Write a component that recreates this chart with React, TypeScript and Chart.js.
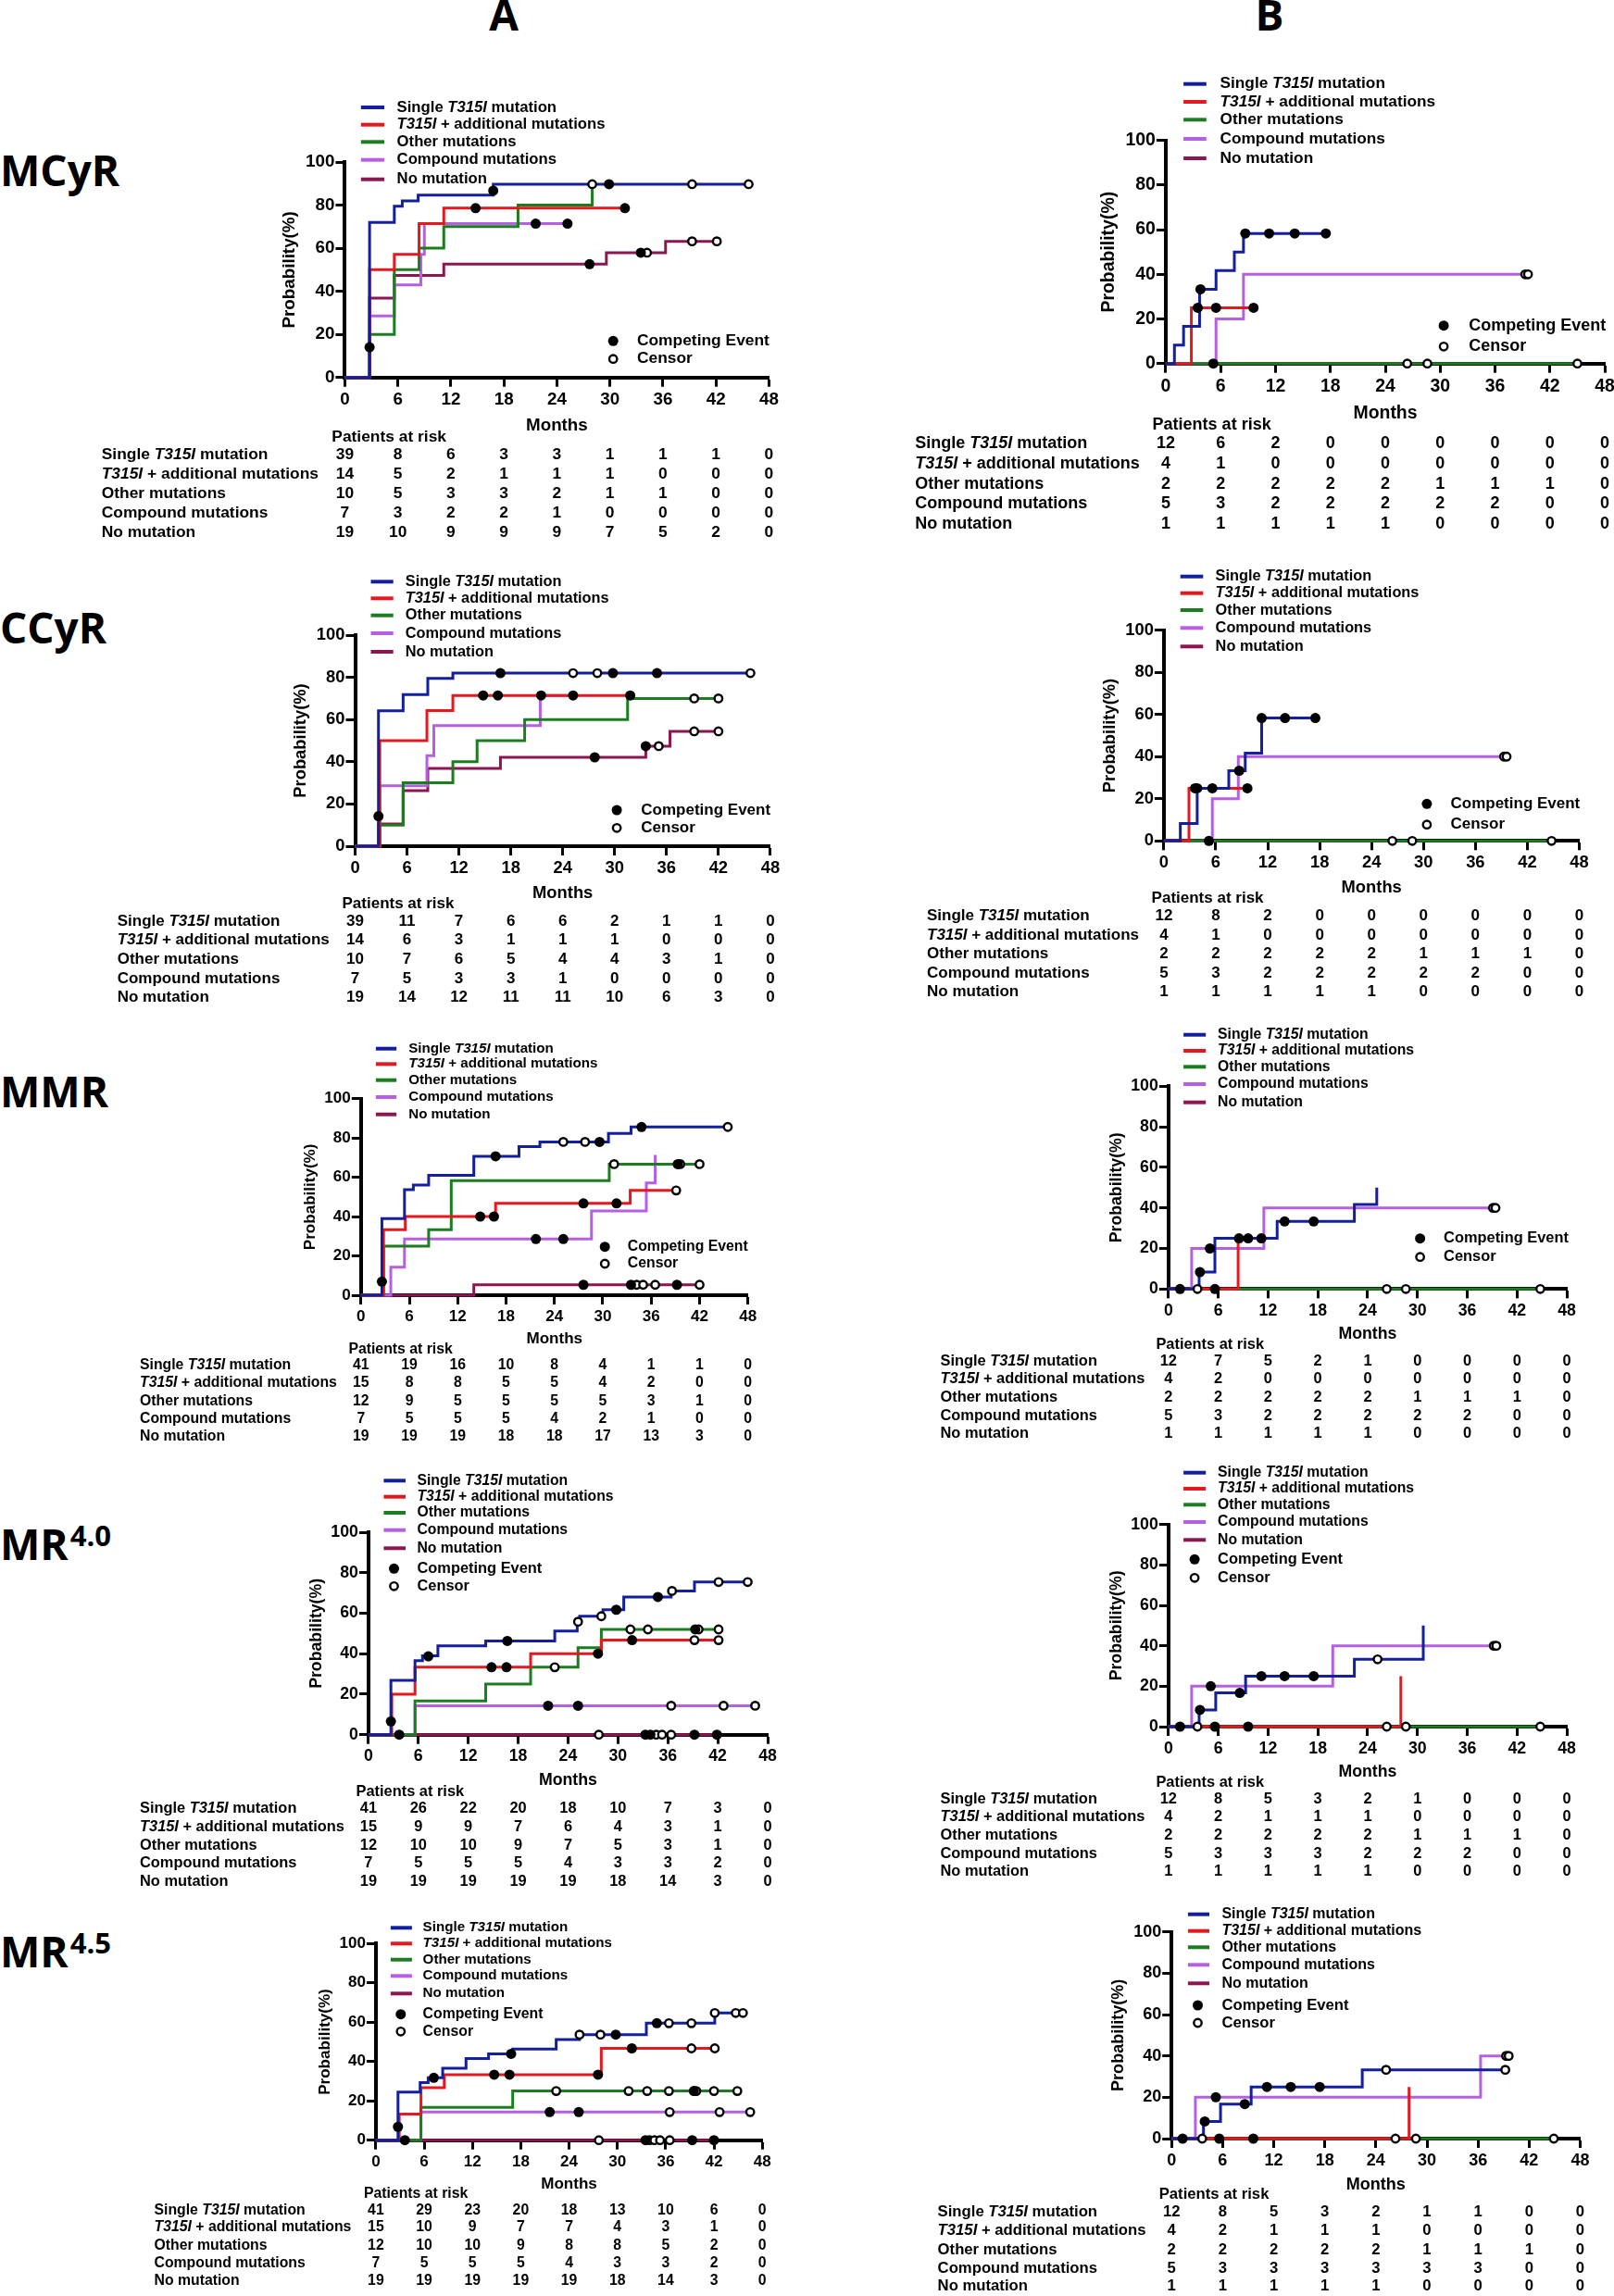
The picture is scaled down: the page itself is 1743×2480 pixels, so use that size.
import React, { useEffect, useRef } from 'react';
import { Chart, registerables } from 'chart.js';

Chart.register(...registerables);

type Pt = [number, number];

// ---------- shared labels ----------
const MONTH_TICKS = [0, 6, 12, 18, 24, 30, 36, 42, 48];
const PROB_TICKS = [0, 20, 40, 60, 80, 100];
const GROUP_NAMES = [
  'Single T315I mutation',
  'T315I + additional mutations',
  'Other mutations',
  'Compound mutations',
  'No mutation',
];
const MARKER_NAMES = ['Competing Event', 'Censor'];
const COLUMN_TITLES = ['A', 'B'];
const ROW_TITLES = ['MCyR', 'CCyR', 'MMR', 'MR', 'MR'];
const ROW_SUPERSCRIPTS = ['', '', '', '4.0', '4.5'];
const X_TITLE = 'Months';
const Y_TITLE = 'Probability(%)';
const RISK_TITLE = 'Patients at risk';

// ---------- MCyR, column A ----------
const A_MCYR_SINGLE: Pt[] = [[0, 0], [2.8, 72], [5.6, 79.5], [6.5, 82], [8.3, 84.6], [16.8, 89.7], [45.7, 89.7]];
const A_MCYR_TPLUS: Pt[] = [[0, 0], [2.8, 50], [5.6, 57.1], [8.4, 71.4], [11.2, 78.6], [31.7, 78.6]];
const A_MCYR_OTHER: Pt[] = [[0, 0], [2.8, 20], [5.6, 50], [8.4, 60], [11.2, 70], [19.6, 80], [28, 89.7]];
const A_MCYR_COMPOUND: Pt[] = [[0, 0], [2.8, 28.6], [5.6, 42.9], [8.6, 57.1], [9.0, 71.4], [25.2, 71.4]];
const A_MCYR_NOMUT: Pt[] = [[0, 0], [2.8, 36.8], [5.6, 47.4], [11.2, 52.6], [29.6, 57.9], [36.3, 63.2], [42.1, 63.2]];
const A_MCYR_EVENTS: Pt[] = [[2.8, 14], [16.8, 86.7], [29.9, 89.7], [14.8, 78.6], [31.7, 78.6], [21.6, 71.4], [25.2, 71.4], [27.7, 52.6], [33.5, 57.9]];
const A_MCYR_CENSOR: Pt[] = [[28, 89.7], [39.3, 89.7], [45.7, 89.7], [34.2, 57.9], [39.3, 63.2], [42.1, 63.2]];
const A_MCYR_RISK = [
  [39, 8, 6, 3, 3, 1, 1, 1, 0],
  [14, 5, 2, 1, 1, 1, 0, 0, 0],
  [10, 5, 3, 3, 2, 1, 1, 0, 0],
  [7, 3, 2, 2, 1, 0, 0, 0, 0],
  [19, 10, 9, 9, 9, 7, 5, 2, 0],
];

// ---------- MCyR, column B ----------
const B_MCYR_SINGLE: Pt[] = [[0, 0], [0.95, 8.3], [1.95, 16.7], [3.7, 33.3], [5.5, 41.7], [7.5, 50], [8.5, 58.3], [17.5, 58.3]];
const B_MCYR_TPLUS: Pt[] = [[0, 0], [2.8, 25], [9.6, 25]];
const B_MCYR_OTHER: Pt[] = [[0, 0], [45, 0]];
const B_MCYR_COMPOUND: Pt[] = [[0, 0], [5.5, 20], [8.5, 40], [39.5, 40]];
const B_MCYR_NOMUT: Pt[] = [[0, 0], [27, 0]];
const B_MCYR_EVENTS: Pt[] = [[3.8, 33.3], [8.7, 58.3], [11.3, 58.3], [14.1, 58.3], [17.5, 58.3], [3.5, 25], [5.5, 25], [9.6, 25], [5.2, 0]];
const B_MCYR_CENSOR: Pt[] = [[26.4, 0], [28.6, 0], [45, 0], [39.3, 40], [39.6, 40]];
const B_MCYR_RISK = [
  [12, 6, 2, 0, 0, 0, 0, 0, 0],
  [4, 1, 0, 0, 0, 0, 0, 0, 0],
  [2, 2, 2, 2, 2, 1, 1, 1, 0],
  [5, 3, 2, 2, 2, 2, 2, 0, 0],
  [1, 1, 1, 1, 1, 0, 0, 0, 0],
];

// ---------- CCyR, column A ----------
const A_CCYR_SINGLE: Pt[] = [[0, 0], [2.7, 64.1], [5.55, 71.8], [8.4, 79.5], [11.3, 82], [45.7, 82]];
const A_CCYR_TPLUS: Pt[] = [[0, 0], [2.85, 50], [8.3, 64.3], [11.3, 71.4], [31.8, 71.4]];
const A_CCYR_OTHER: Pt[] = [[0, 0], [2.85, 10], [5.55, 30], [11.3, 40], [14.1, 50], [19.6, 60], [31.5, 70], [42, 70]];
const A_CCYR_COMPOUND: Pt[] = [[0, 0], [2.85, 28.6], [8.3, 42.9], [9.1, 57.1], [21.4, 71.4], [25.2, 71.4]];
const A_CCYR_NOMUT: Pt[] = [[0, 0], [2.7, 10.5], [5.55, 26.3], [8.4, 36.8], [16.8, 42.1], [33.6, 47.4], [36.4, 54.4], [42, 54.4]];
const A_CCYR_EVENTS: Pt[] = [[2.7, 14.2], [16.8, 82], [29.8, 82], [34.9, 82], [14.8, 71.4], [16.5, 71.4], [21.5, 71.4], [25.2, 71.4], [31.8, 71.4], [27.7, 42.1], [33.6, 47.4]];
const A_CCYR_CENSOR: Pt[] = [[25.2, 82], [28, 82], [45.7, 82], [39.2, 70], [42, 70], [35.1, 47.4], [39.2, 54.4], [42, 54.4]];
const A_CCYR_RISK = [
  [39, 11, 7, 6, 6, 2, 1, 1, 0],
  [14, 6, 3, 1, 1, 1, 0, 0, 0],
  [10, 7, 6, 5, 4, 4, 3, 1, 0],
  [7, 5, 3, 3, 1, 0, 0, 0, 0],
  [19, 14, 12, 11, 11, 10, 6, 3, 0],
];

// ---------- CCyR, column B ----------
const B_CCYR_SINGLE: Pt[] = [[0, 0], [1.9, 8.3], [3.85, 25], [7.5, 33.3], [9.4, 41.7], [11.3, 58.3], [17.5, 58.3]];
const B_CCYR_TPLUS: Pt[] = [[0, 0], [2.9, 25], [9.65, 25]];
const B_CCYR_OTHER: Pt[] = [[0, 0], [44.8, 0]];
const B_CCYR_COMPOUND: Pt[] = [[0, 0], [5.6, 20], [8.6, 40], [39.5, 40]];
const B_CCYR_NOMUT: Pt[] = [[0, 0], [27, 0]];
const B_CCYR_EVENTS: Pt[] = [[3.85, 25], [8.7, 33.3], [11.3, 58.3], [14, 58.3], [17.5, 58.3], [3.6, 25], [5.6, 25], [9.65, 25], [5.2, 0]];
const B_CCYR_CENSOR: Pt[] = [[26.4, 0], [28.7, 0], [44.8, 0], [39.3, 40], [39.6, 40]];
const B_CCYR_RISK = [
  [12, 8, 2, 0, 0, 0, 0, 0, 0],
  [4, 1, 0, 0, 0, 0, 0, 0, 0],
  [2, 2, 2, 2, 2, 1, 1, 1, 0],
  [5, 3, 2, 2, 2, 2, 2, 0, 0],
  [1, 1, 1, 1, 1, 0, 0, 0, 0],
];

// ---------- MMR, column A ----------
const A_MMR_SINGLE: Pt[] = [[0, 0], [2.6, 39], [5.4, 53.7], [6.5, 56.1], [8.4, 61], [14, 70.7], [19.6, 75.6], [22.2, 78], [30.7, 82.3], [33.5, 85.6], [45.5, 85.6]];
const A_MMR_TPLUS: Pt[] = [[0, 0], [2.8, 33.3], [5.5, 40], [16.7, 46.7], [33.4, 53.3], [39.1, 53.3]];
const A_MMR_OTHER: Pt[] = [[0, 0], [2.8, 25], [8.4, 33.3], [11.2, 58.3], [30.8, 66.7], [42, 66.7]];
const A_MMR_COMPOUND: Pt[] = [[0, 0], [3.7, 14.3], [5.4, 28.6], [28.6, 42.9], [35.4, 57.1], [36.5, 71.4]];
const A_MMR_NOMUT: Pt[] = [[0, 0], [14, 5.3], [42, 5.3]];
const A_MMR_EVENTS: Pt[] = [[2.6, 6.9], [16.7, 70.7], [29.6, 78], [34.8, 85.6], [14.8, 40], [16.5, 40], [27.6, 46.7], [31.7, 46.7], [39.3, 66.7], [21.7, 28.6], [25.1, 28.6], [27.6, 5.3], [33.5, 5.3], [39.2, 5.3]];
const A_MMR_CENSOR: Pt[] = [[25.1, 78], [27.8, 78], [45.5, 85.6], [39.1, 53.3], [31.4, 66.7], [39.6, 66.7], [42, 66.7], [34.2, 5.3], [35, 5.3], [36.5, 5.3], [42, 5.3]];
const A_MMR_RISK = [
  [41, 19, 16, 10, 8, 4, 1, 1, 0],
  [15, 8, 8, 5, 5, 4, 2, 0, 0],
  [12, 9, 5, 5, 5, 5, 3, 1, 0],
  [7, 5, 5, 5, 4, 2, 1, 0, 0],
  [19, 19, 19, 18, 18, 17, 13, 3, 0],
];

// ---------- MMR, column B ----------
const B_MMR_SINGLE: Pt[] = [[0, 0], [3.7, 8.3], [5.6, 25], [13.1, 33.3], [22.4, 41.7], [25.1, 50]];
const B_MMR_TPLUS: Pt[] = [[0, 0], [8.4, 25], [9.6, 25]];
const B_MMR_OTHER: Pt[] = [[0, 0], [44.8, 0]];
const B_MMR_COMPOUND: Pt[] = [[0, 0], [2.8, 20], [11.5, 40], [39.3, 40]];
const B_MMR_NOMUT: Pt[] = [[0, 0], [27, 0]];
const B_MMR_EVENTS: Pt[] = [[1.4, 0], [3.8, 8.3], [5, 20], [8.5, 25], [9.6, 25], [11.2, 25], [14, 33.3], [17.5, 33.3], [5.6, 0]];
const B_MMR_CENSOR: Pt[] = [[3.5, 0], [26.3, 0], [28.6, 0], [44.8, 0], [39.1, 40], [39.4, 40]];
const B_MMR_RISK = [
  [12, 7, 5, 2, 1, 0, 0, 0, 0],
  [4, 2, 0, 0, 0, 0, 0, 0, 0],
  [2, 2, 2, 2, 2, 1, 1, 1, 0],
  [5, 3, 2, 2, 2, 2, 2, 0, 0],
  [1, 1, 1, 1, 1, 0, 0, 0, 0],
];

// ---------- MR4.0, column A ----------
const A_MR40_SINGLE: Pt[] = [[0, 0], [2.7, 26.8], [5.6, 36.6], [6.5, 39], [8.35, 43.9], [14.1, 46.3], [22.4, 51.2], [25.1, 55.8], [25.4, 58.5], [28.2, 61.7], [30.7, 68], [36.4, 71], [39.2, 75.4], [45.6, 75.4]];
const A_MR40_TPLUS: Pt[] = [[0, 0], [2.8, 20], [5.6, 33.3], [19.5, 40], [28, 46.7], [42.1, 46.7]];
const A_MR40_OTHER: Pt[] = [[0, 0], [5.6, 16.7], [14.1, 25], [19.5, 33.3], [25.2, 43], [28, 52], [42.1, 52]];
const A_MR40_COMPOUND: Pt[] = [[0, 0], [5.6, 14.3], [46.5, 14.3]];
const A_MR40_NOMUT: Pt[] = [[0, 0], [42.1, 0]];
const A_MR40_EVENTS: Pt[] = [[2.7, 6.6], [7.2, 38.7], [16.7, 46.3], [29.8, 61.7], [34.8, 68], [14.8, 33.3], [16.6, 33.3], [27.6, 40], [31.7, 46.7], [3.7, 0], [39.3, 52], [21.6, 14.3], [25.2, 14.3], [33.3, 0], [33.9, 0], [39.2, 0], [41.9, 0]];
const A_MR40_CENSOR: Pt[] = [[25.2, 55.8], [28, 58.5], [36.5, 71], [42.1, 75.4], [45.6, 75.4], [39.2, 46.7], [42.1, 46.7], [22.4, 33.3], [31.5, 52], [33.6, 52], [39.7, 52], [42.1, 52], [36.4, 14.3], [42.7, 14.3], [46.5, 14.3], [27.7, 0], [34.6, 0], [35.3, 0], [36.4, 0]];
const A_MR40_RISK = [
  [41, 26, 22, 20, 18, 10, 7, 3, 0],
  [15, 9, 9, 7, 6, 4, 3, 1, 0],
  [12, 10, 10, 9, 7, 5, 3, 1, 0],
  [7, 5, 5, 5, 4, 3, 3, 2, 0],
  [19, 19, 19, 19, 19, 18, 14, 3, 0],
];

// ---------- MR4.0, column B ----------
const B_MR40_SINGLE: Pt[] = [[0, 0], [3.7, 8.3], [5.7, 16.7], [9.3, 25], [22.4, 33.3], [30.7, 50]];
const B_MR40_TPLUS: Pt[] = [[0, 0], [28, 25]];
const B_MR40_OTHER: Pt[] = [[0, 0], [44.8, 0]];
const B_MR40_COMPOUND: Pt[] = [[0, 0], [2.8, 20], [19.8, 40], [39.4, 40]];
const B_MR40_NOMUT: Pt[] = [[0, 0], [27, 0]];
const B_MR40_EVENTS: Pt[] = [[1.4, 0], [3.8, 8.3], [8.6, 16.7], [11.2, 25], [14, 25], [17.5, 25], [5.1, 20], [5.6, 0], [9.6, 0]];
const B_MR40_CENSOR: Pt[] = [[3.5, 0], [25.2, 33.3], [26.3, 0], [28.6, 0], [44.8, 0], [39.2, 40], [39.5, 40]];
const B_MR40_RISK = [
  [12, 8, 5, 3, 2, 1, 0, 0, 0],
  [4, 2, 1, 1, 1, 0, 0, 0, 0],
  [2, 2, 2, 2, 2, 1, 1, 1, 0],
  [5, 3, 3, 3, 2, 2, 2, 0, 0],
  [1, 1, 1, 1, 1, 0, 0, 0, 0],
];

// ---------- MR4.5, column A ----------
const A_MR45_SINGLE: Pt[] = [[0, 0], [2.75, 24.4], [5.5, 29.3], [6.5, 31.7], [8.3, 36.6], [11.2, 41.5], [14, 43.9], [17, 46.3], [22.4, 51.2], [25.3, 53.7], [33.6, 59.5], [42.1, 64.7], [45.6, 64.7]];
const A_MR45_TPLUS: Pt[] = [[0, 0], [2.9, 13.3], [5.6, 26.7], [8.5, 33.3], [28, 46.7], [42.1, 46.7]];
const A_MR45_OTHER: Pt[] = [[0, 0], [5.6, 16.7], [17, 25], [44.9, 25]];
const A_MR45_COMPOUND: Pt[] = [[0, 0], [5.6, 14.3], [46.5, 14.3]];
const A_MR45_NOMUT: Pt[] = [[0, 0], [42.1, 0]];
const A_MR45_EVENTS: Pt[] = [[2.75, 6.8], [7.2, 31.7], [16.8, 43.9], [29.8, 53.7], [34.9, 59.5], [14.7, 33.3], [16.6, 33.3], [27.6, 33.3], [31.8, 46.7], [3.6, 0], [39.5, 25], [21.6, 14.3], [25.2, 14.3], [33.5, 0], [39.3, 0], [42, 0]];
const A_MR45_CENSOR: Pt[] = [[25.3, 53.7], [27.9, 53.7], [36.4, 59.5], [39.2, 59.5], [42.1, 64.7], [44.7, 64.7], [45.6, 64.7], [39.2, 46.7], [42.1, 46.7], [22.4, 25], [31.4, 25], [33.7, 25], [36.4, 25], [39.8, 25], [42, 25], [44.9, 25], [36.5, 14.3], [42.7, 14.3], [46.5, 14.3], [27.7, 0], [34, 0], [34.6, 0], [35.3, 0], [36.5, 0]];
const A_MR45_RISK = [
  [41, 29, 23, 20, 18, 13, 10, 6, 0],
  [15, 10, 9, 7, 7, 4, 3, 1, 0],
  [12, 10, 10, 9, 8, 8, 5, 2, 0],
  [7, 5, 5, 5, 4, 3, 3, 2, 0],
  [19, 19, 19, 19, 19, 18, 14, 3, 0],
];

// ---------- MR4.5, column B ----------
const B_MR45_SINGLE: Pt[] = [[0, 0], [3.75, 8.3], [5.75, 16.7], [9.35, 25], [22.4, 33.3], [39.2, 33.3]];
const B_MR45_TPLUS: Pt[] = [[0, 0], [27.9, 25]];
const B_MR45_OTHER: Pt[] = [[0, 0], [44.9, 0]];
const B_MR45_COMPOUND: Pt[] = [[0, 0], [2.8, 20], [36.3, 40], [39.5, 40]];
const B_MR45_NOMUT: Pt[] = [[0, 0], [27, 0]];
const B_MR45_EVENTS: Pt[] = [[1.3, 0], [3.9, 8.3], [8.6, 16.7], [11.2, 25], [14, 25], [17.4, 25], [5.2, 20], [5.6, 0], [9.6, 0]];
const B_MR45_CENSOR: Pt[] = [[3.6, 0], [25.2, 33.3], [39.2, 33.3], [26.3, 0], [28.7, 0], [44.9, 0], [39.3, 40], [39.6, 40]];
const B_MR45_RISK = [
  [12, 8, 5, 3, 2, 1, 1, 0, 0],
  [4, 2, 1, 1, 1, 0, 0, 0, 0],
  [2, 2, 2, 2, 2, 1, 1, 1, 0],
  [5, 3, 3, 3, 3, 3, 3, 0, 0],
  [1, 1, 1, 1, 1, 0, 0, 0, 0],
];

// ---------- styles ----------
const COLORS = ['#131f9c', '#e3191f', '#1b7d1f', '#b65fe3', '#8c1750'];
const FONT = '"Liberation Sans", Arial, Helvetica, sans-serif';
const LABEL_FONT = '"Open Sans", "Liberation Sans", Arial, sans-serif';
const Y_AXIS_W = 80;
const X_AXIS_H = 75;

interface Layout {
  left: number; top: number; width: number; height: number; fs: number;
  x0: number; x48: number; y100: number; y0: number;
  legX1: number; legX2: number; legTextX: number; legYs: number[];
  mkDotX: number; mkTextX: number; mkYs: number[];
  monthsY: number; yTitleX: number;
  parX: number; parY: number; rowX: number; rowYs: number[];
}

interface PanelDef {
  curves: Pt[][];
  events: Pt[];
  censor: Pt[];
  risk: number[][];
  layout: Layout;
}

const PANELS: PanelDef[] = [
  {
    curves: [A_MCYR_SINGLE, A_MCYR_TPLUS, A_MCYR_OTHER, A_MCYR_COMPOUND, A_MCYR_NOMUT],
    events: A_MCYR_EVENTS, censor: A_MCYR_CENSOR, risk: A_MCYR_RISK,
    layout: {
      left: 100, top: 95, width: 760, height: 500, fs: 17.4,
      x0: 372.4, x48: 830.4, y100: 175, y0: 407.7,
      legX1: 389.8, legX2: 415, legTextX: 428.6, legYs: [116, 134.7, 153.3, 172.7, 193.7],
      mkDotX: 662.2, mkTextX: 687.9, mkYs: [368.3, 387.7],
      monthsY: 460, yTitleX: 313.3,
      parX: 358.3, parY: 472.3, rowX: 109.7, rowYs: [491, 512, 533, 554, 575],
    },
  },
  {
    curves: [B_MCYR_SINGLE, B_MCYR_TPLUS, B_MCYR_OTHER, B_MCYR_COMPOUND, B_MCYR_NOMUT],
    events: B_MCYR_EVENTS, censor: B_MCYR_CENSOR, risk: B_MCYR_RISK,
    layout: {
      left: 975, top: 70, width: 768, height: 515, fs: 18,
      x0: 1258.9, x48: 1733.1, y100: 151.7, y0: 392.7,
      legX1: 1278.1, legX2: 1302.8, legTextX: 1317.5, legYs: [90.7, 110, 129.3, 150, 171],
      mkDotX: 1559.1, mkTextX: 1586.2, mkYs: [351.7, 374.3],
      monthsY: 446.7, yTitleX: 1197.8,
      parX: 1244.6, parY: 459.3, rowX: 988.2, rowYs: [479, 500.7, 522.7, 544.3, 565.7],
    },
  },
  {
    curves: [A_CCYR_SINGLE, A_CCYR_TPLUS, A_CCYR_OTHER, A_CCYR_COMPOUND, A_CCYR_NOMUT],
    events: A_CCYR_EVENTS, censor: A_CCYR_CENSOR, risk: A_CCYR_RISK,
    layout: {
      left: 100, top: 605, width: 760, height: 490, fs: 17,
      x0: 383.5, x48: 831.9, y100: 686, y0: 914,
      legX1: 400.5, legX2: 424.7, legTextX: 437.8, legYs: [628.3, 646.3, 664.7, 684, 704],
      mkDotX: 666.1, mkTextX: 692.3, mkYs: [875, 894.3],
      monthsY: 965, yTitleX: 325.4,
      parX: 369.5, parY: 976.7, rowX: 126.7, rowYs: [995, 1015.7, 1036.7, 1057, 1077],
    },
  },
  {
    curves: [B_CCYR_SINGLE, B_CCYR_TPLUS, B_CCYR_OTHER, B_CCYR_COMPOUND, B_CCYR_NOMUT],
    events: B_CCYR_EVENTS, censor: B_CCYR_CENSOR, risk: B_CCYR_RISK,
    layout: {
      left: 975, top: 600, width: 768, height: 490, fs: 17,
      x0: 1256.9, x48: 1705.5, y100: 680.7, y0: 908.3,
      legX1: 1274.7, legX2: 1299.3, legTextX: 1312.6, legYs: [622.7, 640.7, 659, 678.3, 698.3],
      mkDotX: 1540.9, mkTextX: 1566.5, mkYs: [868.3, 890.7],
      monthsY: 959.3, yTitleX: 1199.2,
      parX: 1243.6, parY: 970.7, rowX: 1001, rowYs: [989.3, 1010, 1030.7, 1051, 1071],
    },
  },
  {
    curves: [A_MMR_SINGLE, A_MMR_TPLUS, A_MMR_OTHER, A_MMR_COMPOUND, A_MMR_NOMUT],
    events: A_MMR_EVENTS, censor: A_MMR_CENSOR, risk: A_MMR_RISK,
    layout: {
      left: 130, top: 1110, width: 720, height: 455, fs: 15.8,
      x0: 389.8, x48: 807.7, y100: 1186.7, y0: 1399,
      legX1: 405.9, legX2: 428.2, legTextX: 441.2, legYs: [1132.7, 1149.3, 1166.7, 1185, 1203.7],
      mkDotX: 653.2, mkTextX: 677.8, mkYs: [1346.7, 1365],
      monthsY: 1446.7, yTitleX: 335.4,
      parX: 376.4, parY: 1457.7, rowX: 151, rowYs: [1475, 1494, 1513.7, 1532.3, 1551.3],
    },
  },
  {
    curves: [B_MMR_SINGLE, B_MMR_TPLUS, B_MMR_OTHER, B_MMR_COMPOUND, B_MMR_NOMUT],
    events: B_MMR_EVENTS, censor: B_MMR_CENSOR, risk: B_MMR_RISK,
    layout: {
      left: 990, top: 1095, width: 753, height: 470, fs: 16.4,
      x0: 1261.8, x48: 1692.1, y100: 1173.3, y0: 1392.3,
      legX1: 1278.1, legX2: 1302.2, legTextX: 1315.1, legYs: [1117.7, 1135, 1152.3, 1171, 1190.7],
      mkDotX: 1533.6, mkTextX: 1559.1, mkYs: [1337.7, 1357.7],
      monthsY: 1440.7, yTitleX: 1206.1,
      parX: 1248.4, parY: 1452.3, rowX: 1015.5, rowYs: [1470, 1489.3, 1509.3, 1529.3, 1548.7],
    },
  },
  {
    curves: [A_MR40_SINGLE, A_MR40_TPLUS, A_MR40_OTHER, A_MR40_COMPOUND, A_MR40_NOMUT],
    events: A_MR40_EVENTS, censor: A_MR40_CENSOR, risk: A_MR40_RISK,
    layout: {
      left: 130, top: 1580, width: 720, height: 470, fs: 16.4,
      x0: 397.9, x48: 829, y100: 1655, y0: 1873.7,
      legX1: 414.4, legX2: 438, legTextX: 450.5, legYs: [1599.3, 1616.7, 1634, 1652.7, 1672.3],
      mkDotX: 425.5, mkTextX: 450.5, mkYs: [1694.3, 1713.3],
      monthsY: 1923.3, yTitleX: 342,
      parX: 384.5, parY: 1935.7, rowX: 151, rowYs: [1953.3, 1973.3, 1993.3, 2012.7, 2032.3],
    },
  },
  {
    curves: [B_MR40_SINGLE, B_MR40_TPLUS, B_MR40_OTHER, B_MR40_COMPOUND, B_MR40_NOMUT],
    events: B_MR40_EVENTS, censor: B_MR40_CENSOR, risk: B_MR40_RISK,
    layout: {
      left: 990, top: 1572, width: 753, height: 470, fs: 16.4,
      x0: 1261.8, x48: 1692.1, y100: 1646.7, y0: 1865,
      legX1: 1278.1, legX2: 1302.2, legTextX: 1315.1, legYs: [1590.7, 1608, 1625.3, 1644, 1663.3],
      mkDotX: 1290.1, mkTextX: 1315.1, mkYs: [1684.3, 1704.3],
      monthsY: 1914, yTitleX: 1206.1,
      parX: 1248.4, parY: 1925, rowX: 1015.5, rowYs: [1943, 1962.3, 1982.3, 2002, 2021.7],
    },
  },
  {
    curves: [A_MR45_SINGLE, A_MR45_TPLUS, A_MR45_OTHER, A_MR45_COMPOUND, A_MR45_NOMUT],
    events: A_MR45_EVENTS, censor: A_MR45_CENSOR, risk: A_MR45_RISK,
    layout: {
      left: 140, top: 2062, width: 720, height: 418, fs: 15.8,
      x0: 405.9, x48: 823.2, y100: 2099.3, y0: 2311.7,
      legX1: 421.9, legX2: 444.9, legTextX: 456.6, legYs: [2082.3, 2099.3, 2116.7, 2134.3, 2153.3],
      mkDotX: 432.8, mkTextX: 456.6, mkYs: [2175.7, 2194.3],
      monthsY: 2359, yTitleX: 351.7,
      parX: 392.9, parY: 2370, rowX: 166.5, rowYs: [2387.3, 2406, 2425.7, 2445, 2463.7],
    },
  },
  {
    curves: [B_MR45_SINGLE, B_MR45_TPLUS, B_MR45_OTHER, B_MR45_COMPOUND, B_MR45_NOMUT],
    events: B_MR45_EVENTS, censor: B_MR45_CENSOR, risk: B_MR45_RISK,
    layout: {
      left: 990, top: 2050, width: 753, height: 430, fs: 16.7,
      x0: 1265.2, x48: 1706.5, y100: 2086.7, y0: 2310,
      legX1: 1282.9, legX2: 1306, legTextX: 1319.4, legYs: [2067.7, 2085.7, 2103.3, 2122.3, 2142.3],
      mkDotX: 1293.5, mkTextX: 1319.4, mkYs: [2166, 2185],
      monthsY: 2360, yTitleX: 1208.5,
      parX: 1251.7, parY: 2370.7, rowX: 1012.6, rowYs: [2389.3, 2409.3, 2430, 2450.3, 2469.3],
    },
  },
];

// row label baselines (page coords) and column header centres
const ROW_BASELINES = [201, 695, 1196, 1685, 2125];
const COLUMN_CENTERS = [544, 1371];
const COLUMN_BASELINE = 33;

// ---------- drawing helpers ----------
function drawRich(ctx: CanvasRenderingContext2D, text: string, x: number, y: number, size: number) {
  const parts = text.split(/(T315I)/).filter((p) => p.length > 0);
  let cx = x;
  for (const p of parts) {
    ctx.font = `${p === 'T315I' ? 'italic ' : ''}bold ${size}px ${FONT}`;
    ctx.fillText(p, cx, y);
    cx += ctx.measureText(p).width;
  }
}

function makeTextPlugin(panel: PanelDef) {
  return {
    id: 'panelText',
    afterDraw(chart: any) {
      const ctx: CanvasRenderingContext2D = chart.ctx;
      const L = panel.layout;
      const ox = L.left;
      const oy = L.top;
      const legFs = L.fs * 0.96;
      ctx.save();
      ctx.fillStyle = '#000';
      ctx.textBaseline = 'middle';
      ctx.textAlign = 'left';
      // series legend
      GROUP_NAMES.forEach((name, i) => {
        const y = L.legYs[i] - oy;
        ctx.strokeStyle = COLORS[i];
        ctx.lineWidth = 4;
        ctx.beginPath();
        ctx.moveTo(L.legX1 - ox, y);
        ctx.lineTo(L.legX2 - ox, y);
        ctx.stroke();
        ctx.fillStyle = '#000';
        drawRich(ctx, name, L.legTextX - ox, y, legFs);
      });
      // marker legend
      const dx = L.mkDotX - ox;
      ctx.fillStyle = '#000';
      ctx.beginPath();
      ctx.arc(dx, L.mkYs[0] - oy, 5.5, 0, Math.PI * 2);
      ctx.fill();
      ctx.beginPath();
      ctx.arc(dx, L.mkYs[1] - oy, 4.2, 0, Math.PI * 2);
      ctx.fillStyle = '#fff';
      ctx.fill();
      ctx.lineWidth = 2.4;
      ctx.strokeStyle = '#000';
      ctx.stroke();
      ctx.fillStyle = '#000';
      MARKER_NAMES.forEach((name, i) => drawRich(ctx, name, L.mkTextX - ox, L.mkYs[i] - oy, L.fs));
      // risk table
      drawRich(ctx, RISK_TITLE, L.parX - ox, L.parY - oy, L.fs);
      const xs = chart.scales.x;
      GROUP_NAMES.forEach((name, r) => {
        const y = L.rowYs[r] - oy;
        ctx.textAlign = 'left';
        drawRich(ctx, name, L.rowX - ox, y, L.fs);
        ctx.textAlign = 'center';
        ctx.font = `bold ${L.fs}px ${FONT}`;
        panel.risk[r].forEach((v, c) => {
          ctx.fillText(String(v), xs.getPixelForValue(MONTH_TICKS[c]), y);
        });
      });
      ctx.restore();
    },
  };
}

function buildConfig(panel: PanelDef): any {
  const L = panel.layout;
  const datasets: any[] = panel.curves.map((c, i) => ({
    label: GROUP_NAMES[i],
    data: c.map(([x, y]) => ({ x, y })),
    borderColor: COLORS[i],
    backgroundColor: COLORS[i],
    borderWidth: 3,
    stepped: true,
    pointRadius: 0,
    pointHoverRadius: 0,
    fill: false,
    tension: 0,
    order: i + 1,
    clip: false,
  }));
  datasets.push({
    label: MARKER_NAMES[0],
    data: panel.events.map(([x, y]) => ({ x, y })),
    showLine: false,
    pointRadius: 5.5,
    pointBackgroundColor: '#000',
    pointBorderColor: '#000',
    pointBorderWidth: 0,
    order: 0,
    clip: false,
  });
  datasets.push({
    label: MARKER_NAMES[1],
    data: panel.censor.map(([x, y]) => ({ x, y })),
    showLine: false,
    pointRadius: 4.2,
    pointBackgroundColor: '#fff',
    pointBorderColor: '#000',
    pointBorderWidth: 2.4,
    order: 0,
    clip: false,
  });
  const axFs = L.fs * 1.08;
  const lh = axFs * 1.2;
  const tickFont = { family: FONT, size: axFs, weight: 'bold' as const };
  const titleFont = { family: FONT, size: axFs, weight: 'bold' as const };
  return {
    type: 'line',
    data: { datasets },
    options: {
      responsive: false,
      animation: false,
      devicePixelRatio: 1,
      events: [],
      layout: {
        padding: {
          left: L.x0 - L.left - Y_AXIS_W,
          right: L.left + L.width - L.x48,
          top: L.y100 - L.top,
          bottom: L.top + L.height - L.y0 - X_AXIS_H,
        },
      },
      plugins: { legend: { display: false }, tooltip: { enabled: false }, title: { display: false } },
      scales: {
        x: {
          type: 'linear',
          min: 0,
          max: 48,
          afterBuildTicks: (s: any) => { s.ticks = MONTH_TICKS.map((v) => ({ value: v })); },
          ticks: { autoSkip: false, maxRotation: 0, padding: 3, color: '#000', font: tickFont },
          grid: { drawOnChartArea: false, drawTicks: true, tickLength: 10, tickWidth: 3, tickColor: '#000' },
          border: { display: true, color: '#000', width: 4 },
          title: {
            display: true, text: X_TITLE, color: '#000', font: titleFont,
            padding: { top: 0, bottom: X_AXIS_H - (L.monthsY - L.y0) - lh / 2 },
          },
          afterFit: (s: any) => { s.height = X_AXIS_H; s.paddingLeft = 0; s.paddingRight = 0; },
        },
        y: {
          type: 'linear',
          min: 0,
          max: 100,
          afterBuildTicks: (s: any) => { s.ticks = PROB_TICKS.map((v) => ({ value: v })); },
          ticks: { autoSkip: false, padding: 1, color: '#000', font: tickFont },
          grid: { drawOnChartArea: false, drawTicks: true, tickLength: 10, tickWidth: 3, tickColor: '#000' },
          border: { display: true, color: '#000', width: 4 },
          title: {
            display: true, text: Y_TITLE, color: '#000', font: titleFont,
            padding: { top: Y_AXIS_W - (L.x0 - L.yTitleX) - lh / 2, bottom: 0 },
          },
          afterFit: (s: any) => { s.width = Y_AXIS_W; s.paddingTop = 0; s.paddingBottom = 0; },
        },
      },
    },
    plugins: [makeTextPlugin(panel)],
  };
}

function Panel({ panel }: { panel: PanelDef }) {
  const ref = useRef<HTMLCanvasElement | null>(null);
  useEffect(() => {
    if (!ref.current) return;
    const chart = new Chart(ref.current, buildConfig(panel));
    return () => chart.destroy();
  }, [panel]);
  const L = panel.layout;
  return (
    <canvas
      ref={ref}
      width={L.width}
      height={L.height}
      style={{ position: 'absolute', left: L.left, top: L.top, width: L.width, height: L.height }}
    />
  );
}

const LABEL_SIZE = 46;
const SUP_SIZE = 31;
// Open Sans: ascent 1.069, descent 0.293 -> baseline offset with line-height 1
const BASELINE_OFF = (1.069 - (1.069 + 0.293 - 1) / 2);

export default function App() {
  return (
    <div style={{ position: 'absolute', left: 0, top: 0, width: 1743, height: 2480, background: '#fff', overflow: 'hidden' }}>
      {COLUMN_TITLES.map((t, i) => (
        <div
          key={t}
          style={{
            position: 'absolute', left: COLUMN_CENTERS[i] - 50, width: 100, textAlign: 'center',
            top: COLUMN_BASELINE - BASELINE_OFF * LABEL_SIZE,
            fontFamily: LABEL_FONT, fontWeight: 700, fontSize: LABEL_SIZE, lineHeight: 1, color: '#000',
          }}
        >
          {t}
        </div>
      ))}
      {ROW_TITLES.map((t, i) => (
        <div
          key={i}
          style={{
            position: 'absolute', left: 0, top: ROW_BASELINES[i] - BASELINE_OFF * LABEL_SIZE,
            fontFamily: LABEL_FONT, fontWeight: 700, fontSize: LABEL_SIZE, lineHeight: 1, color: '#000', whiteSpace: 'nowrap',
          }}
        >
          {t}
          {ROW_SUPERSCRIPTS[i] ? (
            <span style={{ fontSize: SUP_SIZE, position: 'relative', top: -15, marginLeft: 2 }}>{ROW_SUPERSCRIPTS[i]}</span>
          ) : null}
        </div>
      ))}
      {PANELS.map((p, i) => (
        <Panel key={i} panel={p} />
      ))}
    </div>
  );
}
